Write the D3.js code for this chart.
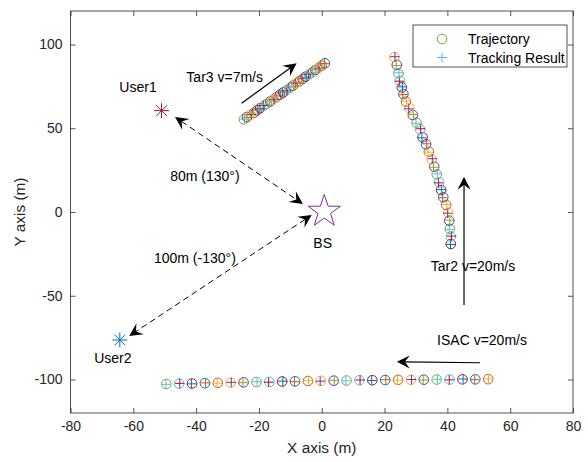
<!DOCTYPE html>
<html>
<head>
<meta charset="utf-8">
<script src="https://cdn.jsdelivr.net/npm/d3@7"></script>
<style>
  body { margin: 0; background: #fff; }
  text { font-family: "Liberation Sans", Arial, sans-serif; }
</style>
</head>
<body>
<div class="chart"></div>
<script>
// axis ticks
var xTicks = [-80, -60, -40, -20, 0, 20, 40, 60, 80];
var yTicks = [-100, -50, 0, 50, 100];

// MATLAB default colour order
var colorOrder = ["#0072BD", "#D95319", "#EDB120", "#7E2F8E", "#77AC30", "#4DBEEE", "#A2142F"];

// Tar3 (v=7m/s)
var tar3X = [-24.8, -23.8, -22.7, -21.6, -20.6, -19.6, -18.5, -17.5, -16.4, -15.4, -14.4, -13.3, -12.3, -11.3, -10.2, -9.2, -8.2, -7.2, -6.1, -5.1, -4.1, -3.0, -2.0, -1.0, 0.0, 1.0];
var tar3Y = [55.3, 56.7, 58.0, 59.2, 60.6, 62.0, 63.4, 64.6, 66.0, 67.4, 68.6, 70.0, 71.4, 72.7, 74.0, 75.4, 76.8, 78.0, 79.4, 80.8, 82.0, 83.4, 84.8, 86.1, 87.4, 88.8];
var tar3TrackX = [-24.6, -23.9, -22.5, -21.8, -20.4, -19.7, -18.6, -17.3, -16.6, -15.2, -14.5, -13.2, -12.5, -11.1, -10.4, -9.0, -8.3, -7.0, -6.3, -5.0, -4.2, -2.9, -2.1, -0.9, 0.1, 0.9];
var tar3TrackY = [55.5, 56.4, 58.2, 59.0, 60.9, 61.8, 63.6, 64.4, 66.2, 67.1, 68.9, 69.8, 71.6, 72.4, 74.3, 75.1, 77.0, 77.8, 79.6, 80.5, 82.3, 83.1, 85.0, 85.9, 87.6, 88.6];

// Tar2 (v=20m/s), moving upwards
var tar2X = [41.1, 41.1, 40.8, 40.6, 40.3, 39.6, 38.7, 38.0, 37.4, 36.6, 35.8, 35.0, 34.1, 33.2, 32.1, 31.3, 30.2, 29.0, 27.9, 26.8, 26.0, 25.5, 24.9, 24.4, 23.9, 23.1];
var tar2Y = [-19.1, -14.7, -10.1, -5.2, -0.4, 4.2, 8.8, 13.1, 17.7, 22.5, 27.0, 31.5, 36.0, 40.4, 44.6, 49.4, 53.3, 57.9, 61.9, 65.9, 70.4, 74.4, 78.4, 82.8, 87.8, 92.4];
var tar2TrackX = [41.0, 41.3, 40.6, 40.8, 40.1, 39.8, 38.5, 38.2, 37.2, 36.8, 35.6, 35.2, 33.9, 33.4, 31.9, 31.5, 30.0, 29.2, 27.7, 27.0, 25.8, 25.7, 24.7, 24.6, 23.7, 23.3];
var tar2TrackY = [-19.4, -14.4, -10.4, -4.9, -0.7, 4.5, 8.5, 13.4, 17.4, 22.8, 26.7, 31.8, 35.7, 40.7, 44.3, 49.7, 53.0, 58.2, 61.6, 66.2, 70.1, 74.7, 78.1, 83.1, 87.5, 92.7];

// ISAC (v=20m/s), moving to the left
var isacX = [53.0, 48.9, 44.8, 40.7, 36.6, 32.5, 28.4, 24.3, 20.2, 16.1, 12.0, 7.9, 3.8, -0.3, -4.4, -8.5, -12.6, -16.7, -20.8, -24.9, -29.0, -33.1, -37.2, -41.3, -45.4, -49.5];
var isacY = [-99.8, -99.9, -99.9, -100.0, -100.0, -100.1, -100.2, -100.2, -100.3, -100.4, -100.5, -100.6, -100.7, -100.8, -100.9, -101.1, -101.2, -101.4, -101.5, -101.7, -101.9, -102.0, -102.2, -102.4, -102.5, -102.7];
var isacTrackX = [53.1, 48.7, 45.0, 40.6, 36.8, 32.3, 28.6, 24.1, 20.4, 15.9, 12.2, 7.7, 4.0, -0.5, -4.2, -8.7, -12.4, -16.9, -20.6, -25.1, -28.8, -33.3, -37.0, -41.5, -45.2, -49.6];
var isacTrackY = [-99.6, -100.1, -99.7, -100.2, -99.8, -100.3, -100.0, -100.4, -100.1, -100.6, -100.3, -100.8, -100.5, -101.0, -100.7, -101.3, -101.0, -101.6, -101.3, -101.9, -101.7, -102.2, -102.0, -102.6, -102.3, -102.9];

// nodes
var bs = [0.8, 0.3];
var user1 = [-51.0, 60.5];
var user2 = [-64.3, -76.4];

// annotation arrows: [x1, y1, x2, y2] (tail to tip)
var tar3Arrow = [-25.5, 64.9, -8.0, 88.8];
var tar2Arrow = [45.3, -55.5, 45.3, 21.1];
var isacArrow = [50.4, -90.0, 23.9, -89.4];
// dashed double arrows
var link1 = [-46.7, 56.7, -6.0, 4.8];
var link2 = [-3.2, -1.8, -61.3, -74.0];

var svg = d3.select(".chart").append("svg")
    .attr("width", 588)
    .attr("height", 462);

var pLeft = 70.5, pRight = 573, pTop = 11, pBottom = 413;

var x = d3.scaleLinear().domain([-80, 80]).range([pLeft, pRight]);
var y = d3.scaleLinear().domain([-120, 120]).range([pBottom, pTop]);

var axisColor = "#262626";
var fmt = function(d){ return String(d); };

// axes
var gx = svg.append("g").attr("transform", "translate(0," + pBottom + ")")
    .call(d3.axisBottom(x).tickValues(xTicks).tickSize(-5).tickPadding(8).tickFormat(fmt));
var gxTop = svg.append("g").attr("transform", "translate(0," + pTop + ")")
    .call(d3.axisTop(x).tickValues(xTicks).tickSize(-5).tickFormat(""));
var gy = svg.append("g").attr("transform", "translate(" + pLeft + ",0)")
    .call(d3.axisLeft(y).tickValues(yTicks).tickSize(-5).tickPadding(8).tickFormat(fmt));
var gyRight = svg.append("g").attr("transform", "translate(" + pRight + ",0)")
    .call(d3.axisRight(y).tickValues(yTicks).tickSize(-5).tickFormat(""));

[gx, gxTop, gy, gyRight].forEach(function(g){
    g.select(".domain").remove();
    g.selectAll(".tick line").attr("stroke", axisColor).attr("stroke-width", 0.8);
    g.selectAll("text").attr("fill", axisColor).style("font-size", "14px")
        .style("font-family", "'Liberation Sans', Arial, sans-serif");
});

svg.append("rect")
    .attr("x", pLeft).attr("y", pTop)
    .attr("width", pRight - pLeft).attr("height", pBottom - pTop)
    .attr("fill", "none")
    .attr("stroke", axisColor)
    .attr("stroke-width", 0.8);

// axis labels
svg.append("text")
    .attr("x", (pLeft + pRight) / 2)
    .attr("y", 453)
    .attr("text-anchor", "middle")
    .attr("fill", axisColor)
    .style("font-size", "15.4px")
    .text("X axis (m)");

svg.append("text")
    .attr("transform", "translate(25," + ((pTop + pBottom) / 2) + ") rotate(-90)")
    .attr("text-anchor", "middle")
    .attr("fill", axisColor)
    .style("font-size", "15.4px")
    .text("Y axis (m)");

// arrow head like MATLAB annotation arrow
var arrowHead = function(g, x1, y1, x2, y2){
    var a = Math.atan2(y2 - y1, x2 - x1);
    var L = 13, W = 6.5, notch = 8;
    var c = Math.cos(a), s = Math.sin(a);
    var pts = [
        [x2, y2],
        [x2 - L * c + W * s, y2 - L * s - W * c],
        [x2 - notch * c, y2 - notch * s],
        [x2 - L * c - W * s, y2 - L * s + W * c]
    ];
    g.append("path")
        .attr("d", "M" + pts.map(function(p){ return p.join(","); }).join("L") + "Z")
        .attr("fill", "#000");
};

var arrow = function(d){
    var x1 = x(d[0]), y1 = y(d[1]), x2 = x(d[2]), y2 = y(d[3]);
    var a = Math.atan2(y2 - y1, x2 - x1);
    svg.append("line")
        .attr("x1", x1).attr("y1", y1)
        .attr("x2", x2 - 8 * Math.cos(a)).attr("y2", y2 - 8 * Math.sin(a))
        .attr("stroke", "#000").attr("stroke-width", 1.2);
    arrowHead(svg, x1, y1, x2, y2);
};

var dashedArrow = function(d){
    var x1 = x(d[0]), y1 = y(d[1]), x2 = x(d[2]), y2 = y(d[3]);
    var a = Math.atan2(y2 - y1, x2 - x1);
    svg.append("line")
        .attr("x1", x1 + 8 * Math.cos(a)).attr("y1", y1 + 8 * Math.sin(a))
        .attr("x2", x2 - 8 * Math.cos(a)).attr("y2", y2 - 8 * Math.sin(a))
        .attr("stroke", "#000").attr("stroke-width", 1)
        .attr("stroke-dasharray", "6,4");
    arrowHead(svg, x1, y1, x2, y2);
    arrowHead(svg, x2, y2, x1, y1);
};

// trajectories: circle + plus, colour cycles per time step
var drawTarget = function(tx, ty, kx, ky, start){
    var pts = tx.map(function(v, i){
        var ci = ((start - i) % 7 + 7) % 7;
        return {x: v, y: ty[i], kx: kx[i], ky: ky[i], c: colorOrder[ci], p: colorOrder[(ci + 1) % 7]};
    });
    var g = svg.append("g");
    pts.forEach(function(d){
        g.append("circle")
            .attr("cx", x(d.x)).attr("cy", y(d.y))
            .attr("r", 4.8)
            .attr("fill", "none")
            .attr("stroke", d.c)
            .attr("stroke-width", 1);
        var px = x(d.kx), py = y(d.ky), r = 4.8;
        g.append("path")
            .attr("d", "M" + (px - r) + "," + py + "H" + (px + r) + "M" + px + "," + (py - r) + "V" + (py + r))
            .attr("stroke", d.p)
            .attr("stroke-width", 1);
    });
};

drawTarget(tar3X, tar3Y, tar3TrackX, tar3TrackY, 4);
drawTarget(tar2X, tar2Y, tar2TrackX, tar2TrackY, 6);
drawTarget(isacX, isacY, isacTrackX, isacTrackY, 1);

// arrows
arrow(tar3Arrow);
arrow(tar2Arrow);
arrow(isacArrow);
dashedArrow(link1);
dashedArrow(link2);

// users (asterisk markers)
var asterisk = function(p, color){
    var cx = x(p[0]), cy = y(p[1]), r = 7.5, d = r * 0.72;
    svg.append("path")
        .attr("d", "M" + (cx - r) + "," + cy + "H" + (cx + r) +
                   "M" + cx + "," + (cy - r) + "V" + (cy + r) +
                   "M" + (cx - d) + "," + (cy - d) + "L" + (cx + d) + "," + (cy + d) +
                   "M" + (cx - d) + "," + (cy + d) + "L" + (cx + d) + "," + (cy - d))
        .attr("stroke", color)
        .attr("stroke-width", 1);
};
asterisk(user1, "#A2142F");
asterisk(user2, "#0072BD");

// base station (pentagram)
var star = d3.range(10).map(function(i){
    var rr = i % 2 === 0 ? 17 : 6.6;
    var ang = -Math.PI / 2 + i * Math.PI / 5;
    return [x(bs[0]) + rr * Math.cos(ang), y(bs[1]) + rr * Math.sin(ang)];
});
svg.append("path")
    .attr("d", "M" + star.map(function(p){ return p.join(","); }).join("L") + "Z")
    .attr("fill", "none")
    .attr("stroke", "#7E2F8E")
    .attr("stroke-width", 1);

// texts
var label = function(px, py, t, anchor){
    svg.append("text")
        .attr("x", px).attr("y", py)
        .attr("text-anchor", anchor || "middle")
        .attr("fill", "#000")
        .style("font-size", "14px")
        .text(t);
};
label(x(-58.5), y(71.6), "User1");
label(x(-66.5), y(-90), "User2");
label(x(0.3), y(-21.5), "BS");
label(x(-37.2), y(18.5), "80m (130°)");
label(x(-40.4), y(-30.4), "100m (-130°)");
label(263, 82, "Tar3 v=7m/s", "end");
label(473, 271, "Tar2 v=20m/s");
label(482, 345, "ISAC v=20m/s");

// legend
var lg = svg.append("g");
lg.append("rect")
    .attr("x", 413).attr("y", 25)
    .attr("width", 154).attr("height", 42)
    .attr("fill", "#fff")
    .attr("stroke", axisColor)
    .attr("stroke-width", 0.8);
lg.append("circle")
    .attr("cx", 442).attr("cy", 39).attr("r", 4.8)
    .attr("fill", "none").attr("stroke", colorOrder[4]).attr("stroke-width", 1);
lg.append("path")
    .attr("d", "M437.2,57.5H446.8M442,52.7V62.3")
    .attr("stroke", colorOrder[5]).attr("stroke-width", 1);
lg.append("text").attr("x", 468).attr("y", 44)
    .attr("fill", "#000").style("font-size", "14px").text("Trajectory");
lg.append("text").attr("x", 468).attr("y", 62.5)
    .attr("fill", "#000").style("font-size", "14px").text("Tracking Result");
</script>
</body>
</html>
